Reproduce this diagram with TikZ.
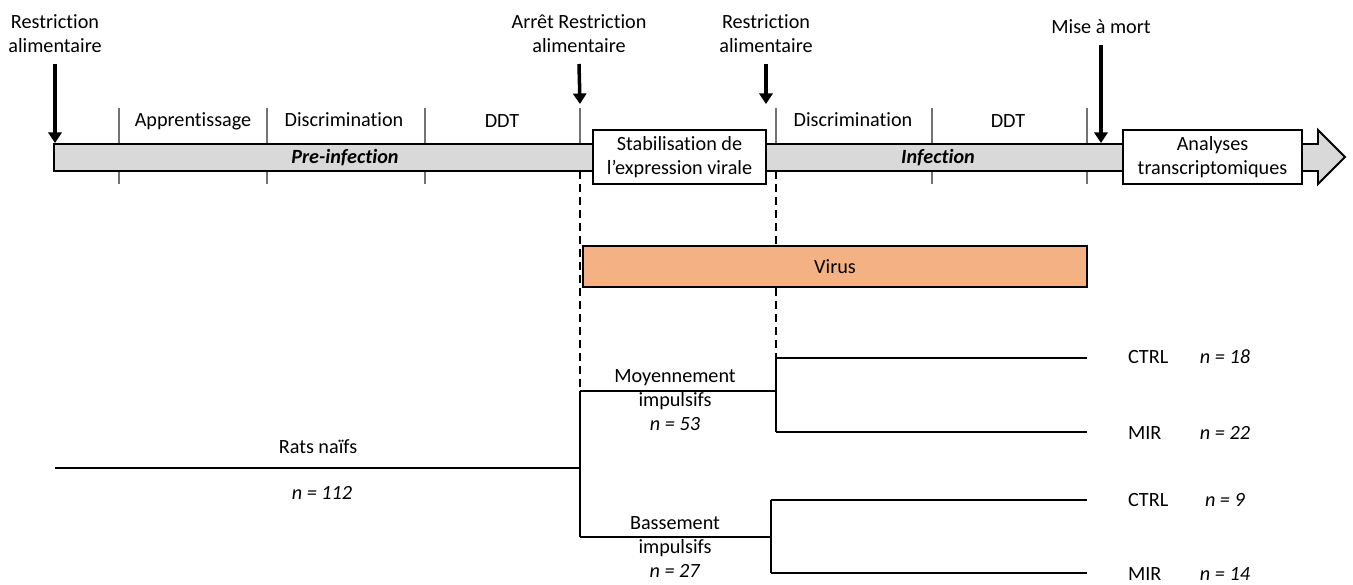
\documentclass[tikz,border=0pt]{standalone}
\usepackage{fontspec}
\setmainfont{Carlito}[Ligatures=NoCommon]
\usetikzlibrary{positioning,arrows.meta}
\definecolor{barfill}{HTML}{D9D9D9}
\definecolor{virusfill}{HTML}{F4B183}

\begin{document}
\begin{tikzpicture}[
  x=0.02cm, y=-0.02cm,
  font=\fontsize{11.5}{13.5}\selectfont,
  lbl/.style={align=center, inner sep=1pt},
  evlbl/.style={align=center, anchor=south, inner xsep=0pt, inner ysep=0.22cm},
  stepbox/.style={draw=black, line width=1pt, fill=white, align=center, inner sep=2pt, minimum height=1.08cm},
  tick/.style={draw=black!55, line width=0.6pt},
  evt/.style={-{Triangle[length=6pt,width=7.5pt]}, line width=2pt},
  branch/.style={line width=1.5pt},
  guide/.style={line width=0.7pt, dash pattern=on 0.16cm off 0.1cm}
]
\useasboundingbox (0,0) rectangle (1353,585);

% phase ticks
\foreach \tx in {119,267,425,932,1087}
  \draw[tick] (\tx,108) -- (\tx,184);
\foreach \tx in {580,776}
  \draw[tick] (\tx,108) -- (\tx,144);

% timeline arrow
\draw[line width=1.1pt, fill=barfill]
  (54,144) -- (1318,144) -- (1318,130) -- (1345,157) -- (1318,184) -- (1318,171) -- (54,171) -- cycle;

\node[font=\fontsize{11.5}{13.5}\selectfont\bfseries\itshape] (pre) at (345,158) {Pre-infection};
\node[font=\fontsize{11.5}{13.5}\selectfont\bfseries\itshape] (inf) at (938,158) {Infection};

\node[lbl] (app) at (193,121) {Apprentissage};
\node[lbl] (dis1) at (344,120) {Discrimination};
\node[lbl] (ddt1) at (502,121) {DDT};
\node[lbl] (dis2) at (853,120) {Discrimination};
\node[lbl] (ddt2) at (1008,121) {DDT};

% guides
\draw[guide] (580,171) -- (580,537);
\draw[guide] (776,171) -- (776,358);

\node[stepbox, minimum width=3.46cm] (stab) at (679.5,157) {Stabilisation de\\l’expression virale};
\node[stepbox, minimum width=3.58cm] (ana) at (1212.5,157) {Analyses\\transcriptomiques};

% events
\coordinate (tA) at (55,143);
\coordinate (tB) at (580,104);
\coordinate (tC) at (766,104);
\coordinate (tD) at (1101,143);
\node[evlbl] (evA) at (55,64) {Restriction\\alimentaire};
\node[evlbl] (evB) at (579,64) {Arrêt Restriction\\alimentaire};
\node[evlbl] (evC) at (766,64) {Restriction\\alimentaire};
\node[evlbl] (evD) at (1101,45) {Mise à mort};
\draw[evt] (evA.south) -- (tA);
\draw[evt] (evB.south) -- (tB);
\draw[evt] (evC.south) -- (tC);
\draw[evt] (evD.south) -- (tD);

% virus
\node[draw=black, line width=1pt, fill=virusfill, minimum width=10.08cm, minimum height=0.82cm, inner sep=0pt] (virus) at (835,266.5) {Virus};

% groups
\coordinate (root) at (55,468);
\coordinate (split) at (580,468);
\coordinate (mid) at (580,391);
\coordinate (low) at (580,537);
\coordinate (midR) at (776,391);
\coordinate (lowR) at (771,537);
\coordinate (c1) at (776,358);
\coordinate (m1) at (776,432);
\coordinate (c2) at (771,500);
\coordinate (m2) at (771,573);
\coordinate (c1e) at (1087,358);
\coordinate (m1e) at (1087,432);
\coordinate (c2e) at (1087,500);
\coordinate (m2e) at (1087,573);
\draw[branch] (root) -- (split);
\draw[branch] (mid) -- (low);
\draw[branch] (mid) -- (midR);
\draw[branch] (low) -- (lowR);
\draw[branch] (c1) -- (m1);
\draw[branch] (c2) -- (m2);
\draw[branch] (c1) -- (c1e);
\draw[branch] (m1) -- (m1e);
\draw[branch] (c2) -- (c2e);
\draw[branch] (m2) -- (m2e);

\node[lbl] (rats) at (318,447) {Rats naïfs};
\node[lbl] (ratsn) at (322,493) {\textit{n = 112}};
\node[lbl] (moy) at (675,400) {Moyennement\\impulsifs\\\textit{n = 53}};
\node[lbl] (bas) at (675,547) {Bassement\\impulsifs\\\textit{n = 27}};

\node[lbl, anchor=west] (ctrl1) at (1126,357) {CTRL};
\node[lbl, anchor=west] (mir1) at (1126,433) {MIR};
\node[lbl, anchor=west] (ctrl2) at (1126,500) {CTRL};
\node[lbl, anchor=west] (mir2) at (1126,574) {MIR};
\node[lbl] (n1) at (1225,357) {\textit{n = 18}};
\node[lbl] (n2) at (1225,433) {\textit{n = 22}};
\node[lbl] (n3) at (1225,500) {\textit{n = 9}};
\node[lbl] (n4) at (1225,574) {\textit{n = 14}};
\end{tikzpicture}
\end{document}
